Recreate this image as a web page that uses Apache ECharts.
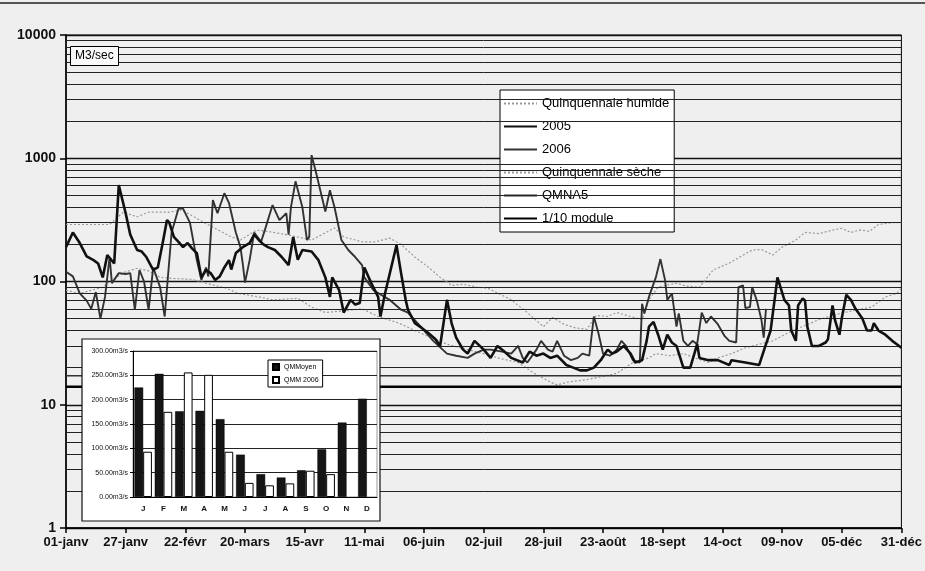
<!DOCTYPE html>
<html>
<head>
<meta charset="utf-8">
<script src="https://cdn.jsdelivr.net/npm/echarts@6/dist/echarts.min.js"></script>
<style>
  html, body { margin: 0; padding: 0; background: #efefef; }
  #main { width: 925px; height: 571px; }
</style>
</head>
<body>
<div id="main"></div>
<script>
// axe des dates : un repere tous les 26 jours
var tickLabels = ['01-janv', '27-janv', '22-févr', '20-mars', '15-avr', '11-mai', '06-juin', '02-juil',
  '28-juil', '23-août', '18-sept', '14-oct', '09-nov', '05-déc', '31-déc'];

// debits journaliers [jour, m3/s]
var quinqHumide = [[0,290],[10,290],[19,290],[25,365],[31,335],[36,365],[45,365],[50,380],[54,350],[61,295],
  [72,230],[76,217],[83,261],[88,255],[97,238],[107,217],[117,272],[121,230],[129,210],[135,210],[141,225],
  [146,200],[152,158],[158,130],[163,108],[168,93],[173,95],[179,90],[184,88],[194,71],[201,56],[208,43],
  [212,51],[217,45],[222,42],[227,41],[231,53],[236,52],[240,56],[246,52],[251,49],[254,71],[258,90],
  [266,97],[270,92],[276,90],[282,124],[289,141],[299,180],[303,182],[308,164],[312,190],[318,217],
  [322,250],[328,245],[334,261],[338,270],[342,250],[346,262],[350,255],[354,290],[360,300],[364,300]];

var quinqSeche = [[0,85],[6,80],[16,90],[20,103],[26,120],[31,128],[36,122],[41,108],[46,106],[55,104],
  [62,96],[70,88],[75,80],[84,75],[90,71],[101,73],[107,62],[113,56],[122,58],[129,60],[136,52],[145,46],
  [152,40],[159,35],[166,31],[175,28],[182,26],[188,24],[197,22],[204,18],[211,15.3],[214,14.5],[219,15.3],
  [227,16],[234,17],[240,18],[247,22],[254,24],[257,26],[263,25],[269,26],[274,24],[280,22],[284,24],
  [290,26],[296,29],[302,31],[308,33],[313,37],[318,41],[322,44],[328,49],[334,53],[339,56],[345,59],
  [351,62],[357,75],[362,80],[364,88]];

var annee2005 = [[0,190],[3,250],[6,205],[9,160],[12,149],[14,140],[16,108],[18,164],[21,140],[23,605],
  [26,358],[28,240],[31,180],[33,175],[35,158],[38,124],[40,130],[42,200],[44,315],[45,300],[47,230],
  [49,210],[51,190],[53,205],[55,185],[57,170],[59,108],[61,124],[63,117],[65,103],[67,110],[69,130],
  [71,149],[72,125],[74,170],[77,190],[80,205],[82,240],[84,217],[86,200],[88,190],[91,180],[94,158],
  [97,136],[99,230],[101,150],[103,180],[107,175],[110,149],[113,108],[115,75],[116,108],[119,85],
  [121,56],[124,71],[126,65],[128,67],[130,130],[133,97],[136,75],[137,52],[139,80],[144,197],[146,117],
  [148,71],[149,59],[152,46],[155,42],[158,38],[161,34],[163,30],[166,71],[168,46],[170,35],[173,28],
  [175,26],[178,33],[182,28],[185,24],[188,30],[191,27],[194,24],[199,22],[202,27],[205,25],[208,26],
  [211,24],[214,25],[218,21],[221,20],[224,19],[227,19],[230,20],[233,23],[236,28],[238,26],[240,27],
  [243,30],[246,26],[248,22],[251,23],[253,33],[254,43],[256,47],[258,37],[260,28],[262,37],[264,32],
  [266,30],[269,20],[272,20],[275,31],[276,24],[280,23],[284,23],[289,21],[290,23],[296,22],[302,21],
  [305,31],[307,40],[310,108],[313,71],[315,64],[316,40],[318,33],[319,64],[321,73],[322,70],[323,43],
  [325,30],[328,30],[331,32],[332,34],[334,64],[335,49],[337,37],[338,50],[340,78],[342,71],[344,60],
  [347,50],[349,40],[351,40],[352,46],[354,40],[357,37],[360,33],[362,31],[364,29]];

var annee2006 = [[0,120],[3,110],[6,80],[9,70],[11,60],[13,82],[15,50],[17,75],[19,158],[20,97],[23,117],
  [26,115],[28,117],[30,59],[32,124],[34,100],[36,59],[38,130],[41,90],[43,52],[46,250],[49,390],[51,390],
  [54,300],[57,149],[59,103],[61,130],[62,110],[64,457],[66,358],[69,520],[71,435],[74,250],[76,190],
  [77,140],[78,98],[80,149],[82,250],[85,210],[87,275],[90,417],[93,315],[96,358],[97,240],[98,400],
  [100,650],[103,400],[105,217],[106,230],[107,1060],[109,760],[113,370],[115,550],[117,400],[120,217],
  [123,180],[126,158],[129,136],[130,108],[134,85],[141,71],[146,59],[149,56],[155,42],[160,33],[166,26],
  [170,25],[175,24],[178,26],[182,28],[185,28],[190,27],[194,26],[197,30],[199,24],[201,22],[205,28],
  [207,33],[210,28],[212,27],[214,33],[217,25],[220,23],[223,24],[225,26],[228,25],[230,52],[232,38],
  [234,26],[237,25],[240,28],[242,33],[244,30],[247,23],[250,22],[251,66],[252,55],[254,75],[257,108],
  [259,152],[261,103],[262,71],[264,80],[266,43],[267,55],[269,33],[271,30],[273,33],[275,31],[277,56],
  [279,46],[281,52],[284,45],[287,36],[289,33],[292,32],[293,90],[295,93],[296,61],[298,62],[299,90],
  [301,70],[303,49],[304,35],[305,60]];

var qmna5 = 17.2;
var dixiemeModule = 14;

// encart : debits moyens mensuels
var mois = ['J', 'F', 'M', 'A', 'M', 'J', 'J', 'A', 'S', 'O', 'N', 'D'];
var qmmMoyen = [225, 253, 176, 177, 160, 87, 47, 40, 55, 98, 153, 202];
var qmm2006 = [93, 175, 256, 251, 93, 29, 24, 28, 54, 47, null, null];

// lignes de grille intermediaires (2..9 de chaque decade)
var gridValues = [];
[1, 10, 100, 1000].forEach(function (d) {
  for (var k = 2; k <= 9; k++) gridValues.push(k * d);
});

var font = "'Liberation Sans', Arial, sans-serif";
var chart = echarts.init(document.getElementById('main'));

chart.setOption({
  backgroundColor: '#efefef',
  animation: false,
  textStyle: { fontFamily: font },
  title: {
    text: 'M3/sec', left: 70, top: 46,
    padding: [4, 5], borderColor: '#000', borderWidth: 1, backgroundColor: '#fafafa',
    textStyle: { fontSize: 12, fontWeight: 'normal', color: '#000', fontFamily: font }
  },
  graphic: [
    { type: 'line', shape: { x1: 0, y1: 3, x2: 925, y2: 3 }, style: { stroke: '#222', lineWidth: 1.5 } },
    { type: 'rect', z: 50, shape: { x: 82, y: 339, width: 298, height: 182 },
      style: { fill: '#fff', stroke: '#111', lineWidth: 1.2 } }
  ],
  legend: [{
    data: ['Quinquennale humide', '2005', '2006', 'Quinquennale sèche', 'QMNA5', '1/10 module'],
    orient: 'vertical', left: 500, top: 90,
    padding: [7, 5, 7, 3], itemWidth: 33, itemHeight: 12, itemGap: 10,
    backgroundColor: '#fff', borderColor: '#000', borderWidth: 1,
    itemStyle: { opacity: 0 },
    textStyle: { fontSize: 13, color: '#000', fontFamily: font }
  }, {
    data: ['QMMoyen', 'QMM 2006'],
    orient: 'vertical', left: 268, top: 360, z: 70,
    padding: [3, 4], itemWidth: 6, itemHeight: 6, itemGap: 5, icon: 'rect',
    backgroundColor: '#fff', borderColor: '#000', borderWidth: 1,
    textStyle: { fontSize: 7, color: '#000', fontFamily: font }
  }],
  grid: [
    { left: 66, right: 16, top: 35, bottom: 43, show: true, borderColor: '#000', borderWidth: 1,
      backgroundColor: 'transparent' },
    { left: 133, right: 548, top: 351, bottom: 74, show: true, z: 55, backgroundColor: '#fff',
      borderColor: '#999', borderWidth: 1 }
  ],
  xAxis: [{
    gridIndex: 0, type: 'value', min: 0, max: 364, interval: 26,
    axisLine: { lineStyle: { color: '#000', width: 1.5 } },
    axisTick: { length: 5, lineStyle: { color: '#000', width: 1.5 } },
    axisLabel: {
      color: '#111', fontSize: 13, fontWeight: 'bold', margin: 8, showMaxLabel: true, showMinLabel: true,
      formatter: function (v) { return tickLabels[Math.round(v / 26)]; }
    },
    splitLine: { show: false }
  }, {
    gridIndex: 1, type: 'category', data: mois, z: 60,
    axisLine: { lineStyle: { color: '#000', width: 1 } },
    axisTick: { length: 3, lineStyle: { color: '#000' } },
    axisLabel: { color: '#111', fontSize: 8, fontWeight: 'bold', margin: 8 }
  }],
  yAxis: [{
    gridIndex: 0, type: 'log', logBase: 10, min: 1, max: 10000,
    axisLine: { show: true, lineStyle: { color: '#000', width: 1.5 } },
    axisTick: { show: true, length: 6, lineStyle: { color: '#000', width: 1.5 } },
    axisLabel: { color: '#111', fontSize: 14, fontWeight: 'bold', margin: 10,
      formatter: function (v) { return String(Math.round(v)); } },
    splitLine: { show: true, lineStyle: { color: '#111', width: 1.4 } }
  }, {
    gridIndex: 1, type: 'value', min: 0, max: 300, interval: 50, z: 60,
    axisLine: { show: true, lineStyle: { color: '#000', width: 1 } },
    axisTick: { show: true, length: 3, lineStyle: { color: '#000' } },
    axisLabel: { color: '#111', fontSize: 7, margin: 5,
      formatter: function (v) { return v.toFixed(2) + 'm3/s'; } },
    splitLine: { show: true, lineStyle: { color: '#222', width: 1 } }
  }],
  series: [
    { name: 'grille', type: 'line', xAxisIndex: 0, yAxisIndex: 0, z: 1, data: [[0, 1]],
      symbol: 'none', silent: true, lineStyle: { width: 0 },
      markLine: { silent: true, symbol: 'none', label: { show: false },
        lineStyle: { color: '#222', width: 1, type: 'solid' },
        data: gridValues.map(function (v) { return { yAxis: v }; }) } },
    { name: 'Quinquennale humide', type: 'line', data: quinqHumide, symbol: 'none', z: 3,
      lineStyle: { color: '#999', width: 1.2, type: [2, 2] }, itemStyle: { color: '#999' } },
    { name: '2005', type: 'line', data: annee2005, symbol: 'none', z: 5,
      lineStyle: { color: '#111', width: 2.6 }, itemStyle: { color: '#111' } },
    { name: '2006', type: 'line', data: annee2006, symbol: 'none', z: 4,
      lineStyle: { color: '#333', width: 1.9 }, itemStyle: { color: '#333' } },
    { name: 'Quinquennale sèche', type: 'line', data: quinqSeche, symbol: 'none', z: 3,
      lineStyle: { color: '#999', width: 1.2, type: [2, 2] }, itemStyle: { color: '#999' } },
    { name: 'QMNA5', type: 'line', data: [[0, qmna5], [364, qmna5]], symbol: 'none', z: 3,
      lineStyle: { color: '#333', width: 1.6 }, itemStyle: { color: '#333' } },
    { name: '1/10 module', type: 'line', data: [[0, dixiemeModule], [364, dixiemeModule]], symbol: 'none', z: 3,
      lineStyle: { color: '#000', width: 2.6 }, itemStyle: { color: '#000' } },
    { name: 'QMMoyen', type: 'bar', xAxisIndex: 1, yAxisIndex: 1, data: qmmMoyen, z: 62,
      barGap: '0%', barCategoryGap: '14%',
      itemStyle: { color: '#151515', borderColor: '#000', borderWidth: 0.5 } },
    { name: 'QMM 2006', type: 'bar', xAxisIndex: 1, yAxisIndex: 1, data: qmm2006, z: 62,
      itemStyle: { color: '#fff', borderColor: '#000', borderWidth: 1 } }
  ]
});
</script>
</body>
</html>
